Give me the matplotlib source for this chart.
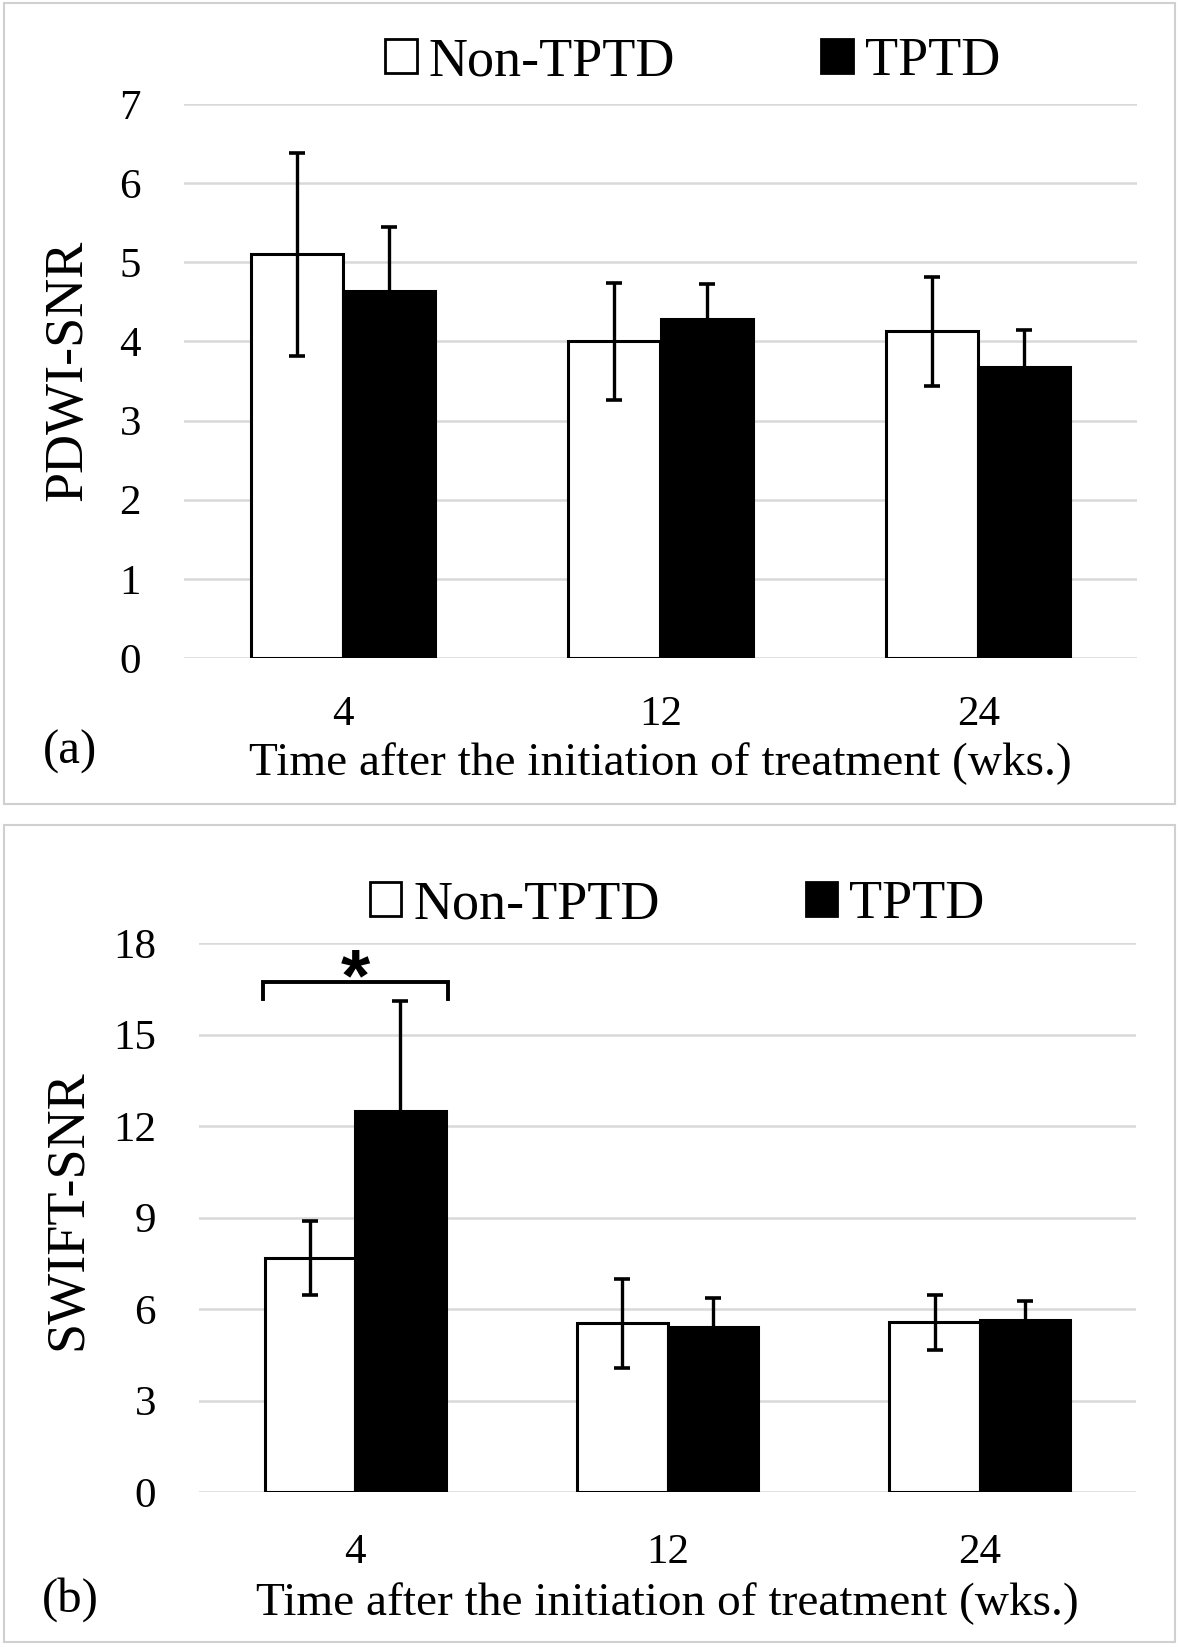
import numpy as np
import matplotlib
matplotlib.use("Agg")
import matplotlib.pyplot as plt
from matplotlib.patches import Rectangle, Patch

# Data
weeks = ["4", "12", "24"]

pdwi_non = [5.10, 4.00, 4.13]
pdwi_non_err = [1.28, 0.74, 0.69]
pdwi_tptd = [4.64, 4.28, 3.68]
pdwi_tptd_err = [0.81, 0.44, 0.47]

swift_non = [7.67, 5.53, 5.56]
swift_non_err = [1.20, 1.45, 0.90]
swift_tptd = [12.49, 5.42, 5.65]
swift_tptd_err = [3.60, 0.95, 0.60]

serif = "Liberation Serif"
W, H = 1180, 1647

fig = plt.figure(figsize=(W / 100, H / 100), dpi=100)

# light grey frames around each panel
for (y0, y1) in [(3, 804), (825, 1642)]:
    fig.patches.append(Rectangle((4 / W, 1 - y1 / H), (1175 - 4) / W, (y1 - y0) / H,
                                 transform=fig.transFigure, fill=False,
                                 edgecolor="#d0d0d0", linewidth=1.5))


def panel(rect, non, non_err, tptd, tptd_err, ymax, step, ylabel, ylab_y, tag, tag_y,
          leg_x, leg_y, xpad, lpad):
    ax = fig.add_axes(rect)
    x = np.arange(len(weeks))
    w = 0.29
    ax.bar(x - w / 2, non, w, color="white", edgecolor="black", linewidth=2.2, zorder=3)
    ax.bar(x + w / 2, tptd, w, color="black", edgecolor="black", linewidth=2.2, zorder=3)
    ax.errorbar(x - w / 2, non, yerr=non_err, fmt="none", ecolor="black",
                elinewidth=2.4, capsize=5.5, capthick=2.6, zorder=4)
    ax.errorbar(x + w / 2, tptd, yerr=tptd_err, fmt="none", ecolor="black",
                elinewidth=2.4, capsize=5.5, capthick=2.6, zorder=4)
    ax.set_xlim(-0.5, 2.5)
    ax.set_ylim(0, ymax)
    ax.set_yticks(np.arange(0, ymax + 0.01, step))
    ax.set_xticks(x)
    ax.set_xticklabels(weeks, fontsize=31, family=serif)
    for lab in ax.get_yticklabels():
        lab.set_fontsize(31)
        lab.set_family(serif)
    ax.tick_params(axis="y", length=0, pad=31)
    ax.tick_params(axis="x", length=0, pad=xpad)
    ax.grid(axis="y", color="#d9d9d9", linewidth=1.8, zorder=0)
    for s in ax.spines.values():
        s.set_visible(False)
    ax.set_xlabel("Time after the initiation of treatment (wks.)", fontsize=34,
                  family=serif, labelpad=lpad)
    fig.text(68 / W, 1 - ylab_y / H, ylabel, rotation=90, fontsize=39, family=serif,
             ha="center", va="center")
    fig.text(70 / W, 1 - tag_y / H, tag, fontsize=35, family=serif,
             ha="center", va="center")
    handles = [Patch(facecolor="white", edgecolor="black", linewidth=2),
               Patch(facecolor="black", edgecolor="black", linewidth=2)]
    fig.legend(handles, ["Non-TPTD", "TPTD"], loc="center",
               bbox_to_anchor=(leg_x, 1 - leg_y / H), ncol=2, frameon=False,
               prop={"family": serif, "size": 39}, handlelength=0.58,
               handleheight=0.58, handletextpad=0.22, columnspacing=2.7)
    return ax


ax_a = panel([184 / W, 1 - 658 / H, (1137 - 184) / W, (658 - 104) / H],
             pdwi_non, pdwi_non_err, pdwi_tptd, pdwi_tptd_err, 7, 1,
             "PDWI-SNR", 370, "(a)", 752, 0.587, 62, 27, 6)

ax_b = panel([199 / W, 1 - 1492 / H, (1136 - 199) / W, (1492 - 943) / H],
             swift_non, swift_non_err, swift_tptd, swift_tptd_err, 18, 3,
             "SWIFT-SNR", 1210, "(b)", 1600, 0.574, 905, 30, 7)

# significance bracket over week 4
ax_b.plot([-0.295, -0.295, 0.297, 0.297], [16.16, 16.72, 16.72, 16.16],
          color="black", linewidth=2.8, solid_joinstyle="miter", clip_on=False, zorder=5)
ax_b.text(0.0, 16.13, "*", fontsize=54, family="Liberation Sans", fontweight="bold",
          ha="center", va="baseline")

fig.savefig("out.png", dpi=100)
